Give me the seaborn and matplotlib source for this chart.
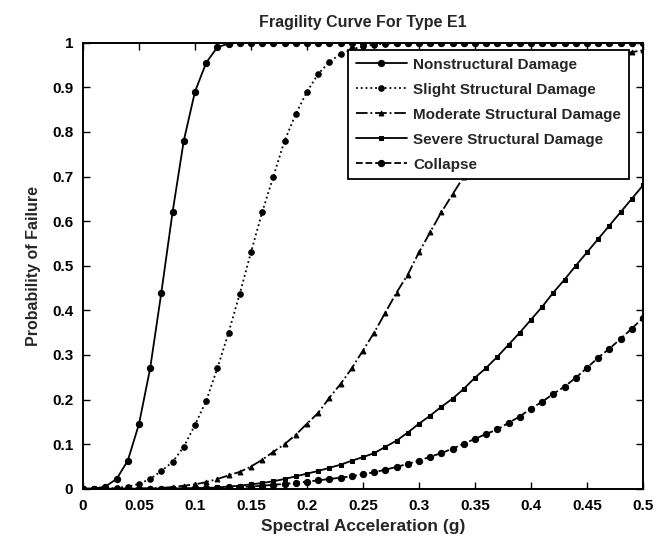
import numpy as np
import pandas as pd
import matplotlib
matplotlib.use("Agg")
import matplotlib.pyplot as plt
import seaborn as sns

# ---- data ----
sa = np.round(np.linspace(0, 0.5, 51), 2)

nonstructural = [0, 0.0005, 0.005, 0.022, 0.063, 0.145, 0.27, 0.44, 0.62, 0.78,
                 0.89, 0.955, 0.99, 0.998] + [1.0] * 37
slight = [0, 0, 0.0005, 0.002, 0.005, 0.011, 0.022, 0.04, 0.06, 0.094,
          0.143, 0.197, 0.27, 0.35, 0.437, 0.53, 0.62, 0.70, 0.78, 0.84,
          0.89, 0.93, 0.957, 0.975, 0.985, 0.992, 0.996, 0.998, 0.999] + [1.0] * 22
moderate = [0, 0, 0, 0.0002, 0.0005, 0.001, 0.001, 0.002, 0.004, 0.007,
            0.01, 0.015, 0.022, 0.03, 0.038, 0.05, 0.065, 0.083, 0.10, 0.121,
            0.146, 0.17, 0.204, 0.235, 0.27, 0.31, 0.35, 0.395, 0.44, 0.48,
            0.53, 0.575, 0.62, 0.66, 0.70, 0.74, 0.775, 0.805, 0.835, 0.86,
            0.88, 0.90, 0.915, 0.93, 0.942, 0.952, 0.96, 0.968, 0.974, 0.979,
            0.983]
severe = [0, 0, 0, 0, 0, 0.0002, 0.0003, 0.0005, 0.0008, 0.001,
          0.0015, 0.002, 0.003, 0.005, 0.007, 0.01, 0.013, 0.017, 0.022, 0.028,
          0.034, 0.04, 0.047, 0.054, 0.063, 0.071, 0.08, 0.094, 0.108, 0.126,
          0.146, 0.164, 0.184, 0.202, 0.224, 0.249, 0.271, 0.296, 0.323, 0.35,
          0.379, 0.408, 0.44, 0.469, 0.50, 0.53, 0.56, 0.59, 0.62, 0.65,
          0.68]
collapse = [0, 0, 0, 0, 0, 0, 0, 0.0002, 0.0004, 0.0006,
            0.0008, 0.001, 0.002, 0.003, 0.004, 0.005, 0.007, 0.009, 0.011, 0.013,
            0.016, 0.019, 0.022, 0.025, 0.028, 0.033, 0.037, 0.043, 0.049, 0.056,
            0.063, 0.072, 0.08, 0.09, 0.101, 0.112, 0.123, 0.133, 0.148, 0.162,
            0.18, 0.195, 0.213, 0.229, 0.249, 0.271, 0.294, 0.314, 0.336, 0.359,
            0.383]

series_names = ["Nonstructural Damage", "Slight Structural Damage",
                "Moderate Structural Damage", "Severe Structural Damage", "Collapse"]
series_values = [nonstructural, slight, moderate, severe, collapse]

xticks = [0, 0.05, 0.1, 0.15, 0.2, 0.25, 0.3, 0.35, 0.4, 0.45, 0.5]
xtick_labels = ["0", "0.05", "0.1", "0.15", "0.2", "0.25", "0.3", "0.35", "0.4", "0.45", "0.5"]
yticks = [0, 0.1, 0.2, 0.3, 0.4, 0.5, 0.6, 0.7, 0.8, 0.9, 1]
ytick_labels = ["0", "0.1", "0.2", "0.3", "0.4", "0.5", "0.6", "0.7", "0.8", "0.9", "1"]

df = pd.concat([pd.DataFrame({"Sa": sa, "P": v, "State": n})
                for n, v in zip(series_names, series_values)], ignore_index=True)

# ---- style ----
sns.set_theme(style="ticks")
plt.rcParams["font.family"] = ["Liberation Sans", "DejaVu Sans"]
plt.rcParams["font.weight"] = "bold"
plt.rcParams["xtick.direction"] = "in"
plt.rcParams["ytick.direction"] = "in"

fig = plt.figure(figsize=(6.69, 5.48), dpi=100)
ax = fig.add_axes([0.124, 0.108, 0.837, 0.814])

styles = {
    "Nonstructural Damage": dict(linestyle="-", marker="o", markersize=4.5),
    "Slight Structural Damage": dict(linestyle=":", marker="o", markersize=4),
    "Moderate Structural Damage": dict(linestyle="-.", marker="^", markersize=3.5),
    "Severe Structural Damage": dict(linestyle="-", marker="s", markersize=3),
    "Collapse": dict(linestyle="--", marker="o", markersize=4.5),
}

for name in series_names:
    sub = df[df["State"] == name]
    sns.lineplot(data=sub, x="Sa", y="P", ax=ax, color="black", lw=1.3,
                 markeredgecolor="black", markerfacecolor="black",
                 label=name, estimator=None, **styles[name])

ax.set_xlim(0, 0.5)
ax.set_ylim(0, 1)
ax.set_xticks(xticks)
ax.set_xticklabels(xtick_labels)
ax.set_yticks(yticks)
ax.set_yticklabels(ytick_labels)
ax.tick_params(axis="both", which="both", direction="in", length=5, width=1,
               labelsize=11, top=True, right=True, colors="black", pad=7)
for sp in ax.spines.values():
    sp.set_visible(True)
    sp.set_linewidth(1.4)
    sp.set_color("black")

ax.set_xlabel("Spectral Acceleration (g)", fontsize=12.5, fontweight="bold", labelpad=5)
ax.set_ylabel("Probability of Failure", fontsize=11.5, fontweight="bold", labelpad=8)
ax.set_title("Fragility Curve For Type E1", fontsize=11.5, fontweight="bold", pad=11)

leg = ax.legend(loc="upper right", bbox_to_anchor=(0.975, 0.984), fontsize=11,
                handlelength=3.3, fancybox=False, framealpha=1, edgecolor="black",
                borderpad=0.5, labelspacing=0.72, handletextpad=0.45, borderaxespad=0)
leg.get_frame().set_linewidth(1.3)
leg.set_zorder(10)

fig.savefig("out.png", dpi=100)
